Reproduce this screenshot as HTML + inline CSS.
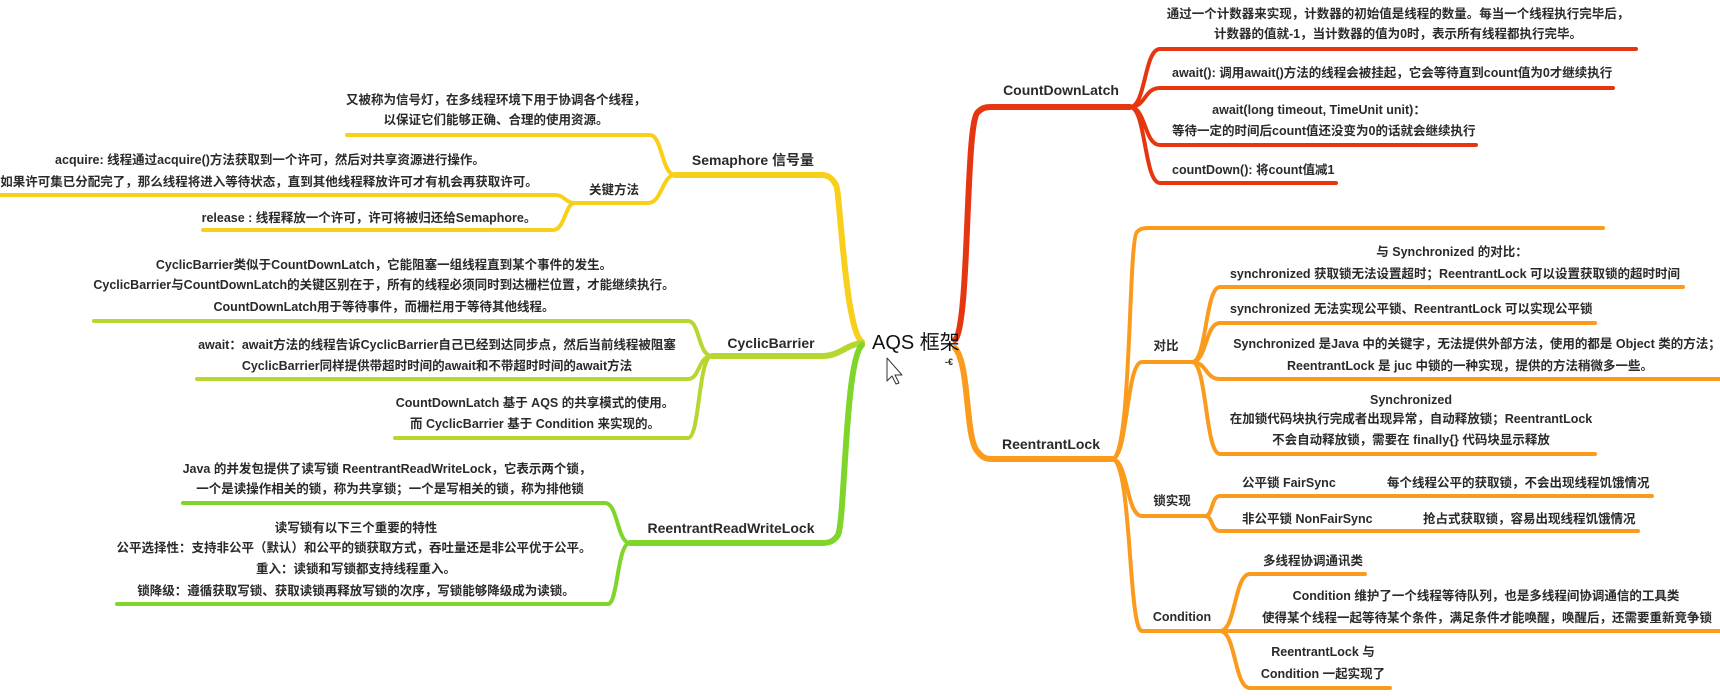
<!DOCTYPE html>
<html><head><meta charset="utf-8"><style>
html,body{margin:0;padding:0;background:#fff;}
svg{display:block;}
text{font-family:"Liberation Sans","Noto Sans CJK SC",sans-serif;font-weight:bold;font-size:12.5px;fill:#2a2a2a;dominant-baseline:central;}
.c{text-anchor:middle;}
.l{font-size:14px;}
path{fill:none;stroke-linecap:round;stroke-linejoin:round;}
.y{stroke:#f8cf1a;}
.cb{stroke:#b6d630;}
.g{stroke:#7fd52a;}
.r{stroke:#e6360f;}
.o{stroke:#fb9b1e;}
.m{stroke-width:6;}
.s{stroke-width:4;}
</style></head><body>
<svg width="1720" height="696" viewBox="0 0 1720 696" xmlns="http://www.w3.org/2000/svg">
<!-- yellow -->
<path class="y m" d="M862,342 C845,330 840,190 836,185 C832,178 828,175 822,175 L675,175"/>
<path class="y s" d="M675,175 C662,175 662,135 650,135 L347,135"/>
<path class="y s" d="M675,175 C662,175 662,203 648,203 L575,203"/>
<path class="y s" d="M575,203 C565,203 565,195 555,195 L0,195"/>
<path class="y s" d="M575,203 C565,203 565,230 553,230 L203,230"/>
<!-- cyclicbarrier -->
<path class="cb m" d="M862,343 C845,345 840,356 822,356 L712,356"/>
<path class="cb s" d="M712,356 C698,356 700,321 688,321 L94,321"/>
<path class="cb s" d="M712,356 C698,356 700,379 688,379 L197,379"/>
<path class="cb s" d="M712,356 C698,356 700,438 688,438 L395,438"/>
<!-- green -->
<path class="g m" d="M862,345 C845,360 845,520 838,535 C834,541 830,543 822,543 L630,543"/>
<path class="g s" d="M630,543 C617,543 618,503 605,503 L183,503"/>
<path class="g s" d="M630,543 C617,543 618,604 608,604 L117,604"/>
<!-- red -->
<path class="r m" d="M955,340 C970,325 965,120 978,112 C982,108 985,107 992,107 L1130,107"/>
<path class="r s" d="M1130,107 C1146,107 1144,49 1160,49 L1636,49"/>
<path class="r s" d="M1130,107 C1146,107 1144,88 1160,88 L1613,88"/>
<path class="r s" d="M1130,107 C1146,107 1144,145 1160,145 L1476,145"/>
<path class="r s" d="M1130,107 C1146,107 1144,183 1160,183 L1336,183"/>
<!-- orange -->
<path class="o m" d="M955,348 C970,365 965,440 978,452 C982,457 985,459 992,459 L1112,459"/>
<path class="o s" d="M1112,459 C1132,459 1128,240 1137,232 C1140,229 1142,228 1148,228 L1603,228"/>
<path class="o s" d="M1112,459 C1128,459 1126,362 1142,362 L1192,362"/>
<path class="o s" d="M1112,459 C1128,459 1126,516 1142,516 L1205,516"/>
<path class="o s" d="M1112,459 C1132,459 1128,631 1142,631 L1220,631"/>
<path class="o s" d="M1192,362 C1207,362 1205,287 1220,287 L1683,287"/>
<path class="o s" d="M1192,362 C1207,362 1205,323 1220,323 L1595,323"/>
<path class="o s" d="M1192,362 C1207,362 1205,379 1220,379 L1720,379"/>
<path class="o s" d="M1192,362 C1207,362 1205,454 1220,454 L1595,454"/>
<path class="o s" d="M1205,516 C1213,516 1211,496 1220,496 L1652,496"/>
<path class="o s" d="M1205,516 C1213,516 1211,531 1220,531 L1638,531"/>
<path class="o s" d="M1220,631 C1236,631 1234,574 1250,574 L1365,574"/>
<path class="o s" d="M1220,631 L1720,631"/>
<path class="o s" d="M1220,631 C1236,631 1234,688 1250,688 L1390,688"/>

<!-- center -->
<text x="872" y="343" style="font-size:20px;font-weight:normal;fill:#111">AQS 框架</text>
<text x="945" y="362" style="font-size:9px">-€</text>
<path d="M887,358 L887,381 L892,376 L896,384 L899,383 L895,375 L902,375 Z" style="fill:#fff;stroke:#333;stroke-width:1"/>

<!-- left labels -->
<text x="753" y="160" class="c l">Semaphore 信号量</text>
<text x="496" y="100" class="c">又被称为信号灯，在多线程环境下用于协调各个线程，</text>
<text x="496" y="120" class="c">以保证它们能够正确、合理的使用资源。</text>
<text x="614" y="190" class="c">关键方法</text>
<text x="270" y="160" class="c">acquire: 线程通过acquire()方法获取到一个许可，然后对共享资源进行操作。</text>
<text x="269" y="182" class="c">如果许可集已分配完了，那么线程将进入等待状态，直到其他线程释放许可才有机会再获取许可。</text>
<text x="369" y="218" class="c">release : 线程释放一个许可，许可将被归还给Semaphore。</text>

<text x="771" y="343" class="c l">CyclicBarrier</text>
<text x="384" y="265" class="c">CyclicBarrier类似于CountDownLatch，它能阻塞一组线程直到某个事件的发生。</text>
<text x="384" y="285" class="c">CyclicBarrier与CountDownLatch的关键区别在于，所有的线程必须同时到达栅栏位置，才能继续执行。</text>
<text x="384" y="307" class="c">CountDownLatch用于等待事件，而栅栏用于等待其他线程。</text>
<text x="437" y="345" class="c">await：await方法的线程告诉CyclicBarrier自己已经到达同步点，然后当前线程被阻塞</text>
<text x="437" y="366" class="c">CyclicBarrier同样提供带超时时间的await和不带超时时间的await方法</text>
<text x="535" y="403" class="c">CountDownLatch 基于 AQS 的共享模式的使用。</text>
<text x="535" y="424" class="c">而 CyclicBarrier 基于 Condition 来实现的。</text>

<text x="731" y="528" class="c l">ReentrantReadWriteLock</text>
<text x="387" y="469" class="c">Java 的并发包提供了读写锁 ReentrantReadWriteLock，它表示两个锁，</text>
<text x="390" y="489" class="c">一个是读操作相关的锁，称为共享锁；一个是写相关的锁，称为排他锁</text>
<text x="356" y="528" class="c">读写锁有以下三个重要的特性</text>
<text x="354" y="548" class="c">公平选择性：支持非公平（默认）和公平的锁获取方式，吞吐量还是非公平优于公平。</text>
<text x="356" y="569" class="c">重入：读锁和写锁都支持线程重入。</text>
<text x="356" y="591" class="c">锁降级：遵循获取写锁、获取读锁再释放写锁的次序，写锁能够降级成为读锁。</text>

<!-- right labels -->
<text x="1061" y="90" class="c l">CountDownLatch</text>
<text x="1398" y="14" class="c">通过一个计数器来实现，计数器的初始值是线程的数量。每当一个线程执行完毕后，</text>
<text x="1398" y="34" class="c">计数器的值就-1，当计数器的值为0时，表示所有线程都执行完毕。</text>
<text x="1172" y="73">await(): 调用await()方法的线程会被挂起，它会等待直到count值为0才继续执行</text>
<text x="1319" y="110" class="c">await(long timeout, TimeUnit unit)：</text>
<text x="1172" y="131">等待一定的时间后count值还没变为0的话就会继续执行</text>
<text x="1172" y="170">countDown(): 将count值减1</text>

<text x="1051" y="444" class="c l">ReentrantLock</text>
<text x="1166" y="346" class="c">对比</text>
<text x="1452" y="252" class="c">与 Synchronized 的对比：</text>
<text x="1455" y="274" class="c">synchronized 获取锁无法设置超时；ReentrantLock 可以设置获取锁的超时时间</text>
<text x="1230" y="309">synchronized 无法实现公平锁、ReentrantLock 可以实现公平锁</text>
<text x="1477" y="344" class="c">Synchronized 是Java 中的关键字，无法提供外部方法，使用的都是 Object 类的方法；</text>
<text x="1470" y="366" class="c">ReentrantLock 是 juc 中锁的一种实现，提供的方法稍微多一些。</text>
<text x="1411" y="400" class="c">Synchronized</text>
<text x="1411" y="419" class="c">在加锁代码块执行完成者出现异常，自动释放锁；ReentrantLock</text>
<text x="1411" y="440" class="c">不会自动释放锁，需要在 finally{} 代码块显示释放</text>
<text x="1172" y="501" class="c">锁实现</text>
<text x="1242" y="483">公平锁 FairSync</text>
<text x="1387" y="483">每个线程公平的获取锁，不会出现线程饥饿情况</text>
<text x="1242" y="519">非公平锁 NonFairSync</text>
<text x="1423" y="519">抢占式获取锁，容易出现线程饥饿情况</text>
<text x="1182" y="617" class="c">Condition</text>
<text x="1313" y="561" class="c">多线程协调通讯类</text>
<text x="1486" y="596" class="c">Condition 维护了一个线程等待队列，也是多线程间协调通信的工具类</text>
<text x="1487" y="618" class="c">使得某个线程一起等待某个条件，满足条件才能唤醒，唤醒后，还需要重新竞争锁</text>
<text x="1323" y="652" class="c">ReentrantLock 与</text>
<text x="1323" y="674" class="c">Condition 一起实现了</text>
</svg>
</body></html>
